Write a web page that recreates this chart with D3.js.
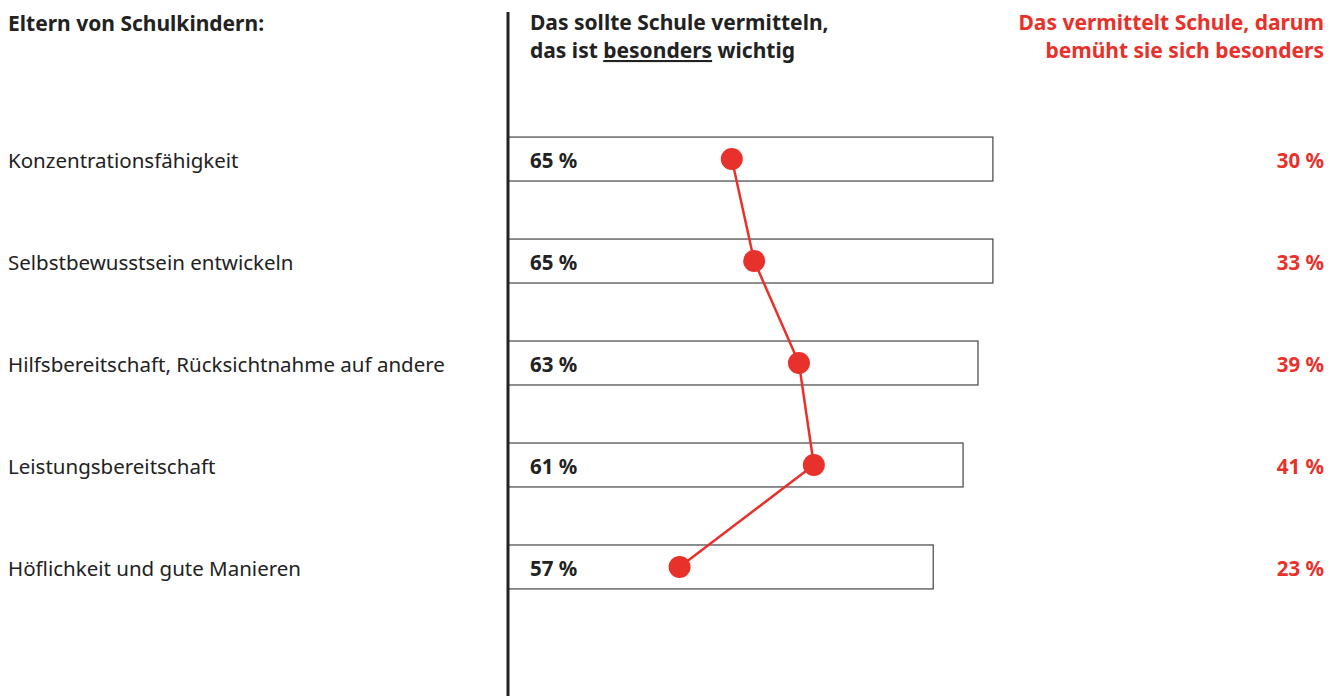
<!DOCTYPE html>
<html>
<head>
<meta charset="utf-8">
<script src="https://cdn.jsdelivr.net/npm/d3@7"></script>
<style>
  body { margin: 0; background: #fff; }
  svg { display: block; font-family: "Noto Sans", "Open Sans", sans-serif; }
</style>
</head>
<body>
<svg></svg>
<script>
const width = 1344;
const height = 696;
const red = "#e8312a";
const dark = "#222222";

const items = ["Konzentrationsfähigkeit", "Selbstbewusstsein entwickeln", "Hilfsbereitschaft, Rücksichtnahme auf andere", "Leistungsbereitschaft", "Höflichkeit und gute Manieren"];
const important = [65, 65, 63, 61, 57];
const provided = [30, 33, 39, 41, 23];

const svg = d3.select("svg")
    .attr("width", width)
    .attr("height", height);

//scales
const x = d3.scaleLinear()
            .domain([0, 100])
            .range([508, 1254]);
const y = d3.scaleBand()
            .domain(items)
            .range([108, 618])
            .paddingInner(0.569)
            .paddingOuter(0.285);

//headers
svg.append("text")
    .attr("x", 8).attr("y", 31)
    .attr("font-size", 21).attr("font-weight", 700)
    .attr("fill", dark)
    .text("Eltern von Schulkindern:");

const mid = svg.append("text")
    .attr("x", 530).attr("y", 30)
    .attr("font-size", 21).attr("font-weight", 700)
    .attr("fill", dark);
mid.append("tspan").text("Das sollte Schule vermitteln,");
const line2 = mid.append("tspan").attr("x", 530).attr("dy", 28);
line2.append("tspan").text("das ist ");
line2.append("tspan").attr("text-decoration", "underline").text("besonders");
line2.append("tspan").text(" wichtig");

svg.append("text")
    .attr("x", 1324).attr("y", 30)
    .attr("text-anchor", "end")
    .attr("font-size", 21).attr("font-weight", 700)
    .attr("fill", red)
    .selectAll("tspan")
    .data(["Das vermittelt Schule, darum", "bemüht sie sich besonders"])
    .join("tspan")
        .attr("x", 1324)
        .attr("dy", (d, i) => i ? 28 : 0)
        .text(d => d);

//row labels
svg.append("g")
    .selectAll("text")
    .data(items)
    .join("text")
        .attr("x", 8)
        .attr("y", d => y(d) + y.bandwidth() / 2)
        .attr("dy", "0.42em")
        .attr("font-size", 20.5)
        .attr("fill", dark)
        .text(d => d);

//bars
svg.append("g")
    .selectAll("rect")
    .data(items)
    .join("rect")
        .attr("x", x(0))
        .attr("y", d => y(d))
        .attr("width", (d, i) => x(important[i]) - x(0))
        .attr("height", y.bandwidth())
        .attr("fill", "#fff")
        .attr("stroke", "#444")
        .attr("stroke-width", 1.2);

svg.append("g")
    .selectAll("text")
    .data(items)
    .join("text")
        .attr("x", 530)
        .attr("y", d => y(d) + y.bandwidth() / 2)
        .attr("dy", "0.42em")
        .attr("font-size", 20.5)
        .attr("font-weight", 700)
        .attr("fill", dark)
        .text((d, i) => important[i] + " %");

//vertical axis line
svg.append("line")
    .attr("x1", 508).attr("x2", 508)
    .attr("y1", 12).attr("y2", height)
    .attr("stroke", dark)
    .attr("stroke-width", 3);

//red line + dots
const pts = items.map((d, i) => [x(provided[i]), y(d) + y.bandwidth() / 2]);
svg.append("path")
    .attr("d", d3.line()(pts))
    .attr("fill", "none")
    .attr("stroke", red)
    .attr("stroke-width", 2.5);

svg.append("g")
    .selectAll("circle")
    .data(pts)
    .join("circle")
        .attr("cx", d => d[0])
        .attr("cy", d => d[1])
        .attr("r", 11)
        .attr("fill", red);

svg.append("g")
    .selectAll("text")
    .data(items)
    .join("text")
        .attr("x", 1324)
        .attr("y", d => y(d) + y.bandwidth() / 2)
        .attr("dy", "0.42em")
        .attr("text-anchor", "end")
        .attr("font-size", 20.5)
        .attr("font-weight", 700)
        .attr("fill", red)
        .text((d, i) => provided[i] + " %");
</script>
</body>
</html>
